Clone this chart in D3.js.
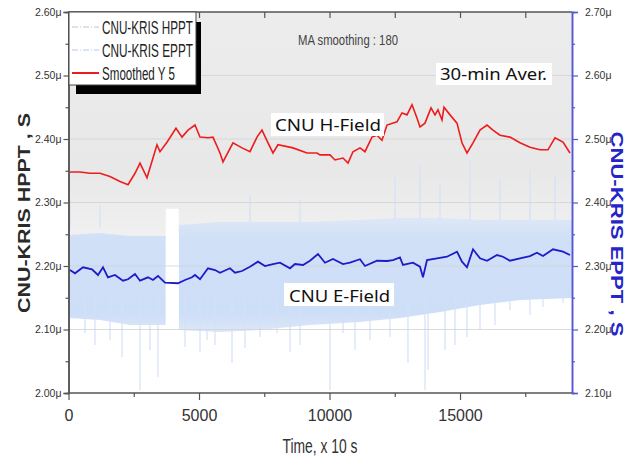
<!DOCTYPE html>
<html>
<head>
<meta charset="utf-8">
<script src="https://cdn.jsdelivr.net/npm/d3@7"></script>
<style>
  body { margin: 0; background: #fff; }
  svg { display: block; }
</style>
</head>
<body>
<svg width="632" height="460"></svg>
<script>
// time axis, x 10 s
const xTicks = [0, 5000, 10000, 15000];
const xMinor = [2500, 7500, 12500, 17500];
// left axis (HPPT) and right axis (EPPT), in microseconds
const yLeftTicks = [2.0, 2.1, 2.2, 2.3, 2.4, 2.5, 2.6];
const yRightTicks = [2.1, 2.2, 2.3, 2.4, 2.5, 2.6, 2.7];

// CNU H-Field, 30 min moving average (left axis)
const hSmoothT = [57, 441, 824, 1207, 1590, 1973, 2280, 2548, 2740, 3007,
  3390, 3505, 3773, 4118, 4348, 4578, 4846, 5038, 5344, 5536,
  5804, 5919, 6302, 6647, 6953, 7221, 7413, 7643, 7834, 8026,
  8600, 9137, 9520, 9635, 10018, 10209, 10516, 10708, 10899, 11167,
  11359, 11627, 11819, 12010, 12202, 12585, 12777, 12968, 13160, 13351,
  13466, 13658, 13888, 14041, 14156, 14309, 14386, 14616, 14884, 15075,
  15267, 15497, 15765, 16033, 16262, 16531, 16914, 17297, 17680, 18063,
  18370, 18638, 18945, 19213];
const hSmoothV = [2.348, 2.348, 2.346, 2.346, 2.341, 2.333, 2.328, 2.346, 2.362, 2.339,
  2.391, 2.380, 2.395, 2.417, 2.403, 2.414, 2.422, 2.403, 2.402, 2.403,
  2.378, 2.364, 2.394, 2.386, 2.380, 2.403, 2.414, 2.394, 2.378, 2.391,
  2.386, 2.378, 2.378, 2.375, 2.375, 2.367, 2.370, 2.362, 2.380, 2.386,
  2.380, 2.403, 2.406, 2.398, 2.422, 2.427, 2.441, 2.438, 2.454, 2.433,
  2.419, 2.425, 2.449, 2.438, 2.446, 2.430, 2.450, 2.438, 2.425, 2.394,
  2.378, 2.394, 2.414, 2.422, 2.414, 2.406, 2.403, 2.394, 2.387, 2.383,
  2.383, 2.402, 2.395, 2.378];

// CNU E-Field, 30 min moving average (right axis)
const eSmoothT = [57, 249, 556, 900, 1130, 1322, 1513, 1781, 2088, 2280,
  2548, 2740, 3046, 3237, 3429, 3697, 4195, 4463, 4731, 4846,
  5038, 5344, 5613, 5804, 6187, 6379, 6647, 6953, 7260, 7528,
  7834, 8103, 8486, 8677, 8984, 9252, 9558, 9826, 10133, 10516,
  10784, 11167, 11359, 11819, 12202, 12432, 12700, 12815, 13198, 13466,
  13581, 13735, 14118, 14501, 14884, 15075, 15267, 15497, 15765, 16033,
  16416, 16646, 16914, 17297, 17680, 17948, 18178, 18561, 18945, 19213];
const eSmoothV = [2.2937, 2.2885, 2.2980, 2.2948, 2.2858, 2.2980, 2.2822, 2.2858, 2.2769, 2.2791,
  2.2874, 2.2769, 2.2822, 2.2780, 2.2843, 2.2737, 2.2728, 2.2780, 2.2822, 2.2858,
  2.2791, 2.2964, 2.2937, 2.2894, 2.2964, 2.2894, 2.2921, 2.2989, 2.3068, 2.3000,
  2.3031, 2.3052, 2.2964, 2.3031, 2.3016, 2.3083, 2.3189, 2.3052, 2.3110, 2.3031,
  2.3052, 2.3106, 2.3000, 2.3083, 2.3079, 2.3094, 2.3137, 2.3016, 2.3052, 2.2989,
  2.2822, 2.3094, 2.3121, 2.3146, 2.3225, 2.3068, 2.2980, 2.3263, 2.3121, 2.3083,
  2.3173, 2.3146, 2.3083, 2.3121, 2.3157, 2.3209, 2.3157, 2.3263, 2.3225, 2.3173];

// raw HPPT envelope (left axis)
const hBandT = [0, 3720, 3730, 4220, 4230, 19290];
const hBandHi = [2.62, 2.62, 2.62, 2.62, 2.62, 2.62];
const hBandLo = [2.24, 2.24, 2.29, 2.29, 2.25, 2.25];

// raw EPPT envelope (right axis), null = no data
const eBandT = [0, 1207, 2356, 3720, 3980, 4230, 5804, 7336, 9252, 11167, 12700, 14233, 15765, 17297, 19290];
const eBandHi = [2.3488, 2.3520, 2.3472, 2.3472, null, 2.3646, 2.3693, 2.3693, 2.3693, 2.3724, 2.3756, 2.3756, 2.3724, 2.3724, 2.3724];
const eBandLo = [2.2181, 2.2150, 2.2071, 2.2071, null, 2.1992, 2.1961, 2.1992, 2.2071, 2.2118, 2.2181, 2.2276, 2.2386, 2.2465, 2.2496];

// single EPPT spikes outside the envelope (right axis)
const eSpikeDownT = [632, 1015, 1590, 2050, 2739, 3122, 3429, 4463, 5038, 5306,
  5613, 6264, 6762, 7336, 7988, 8486, 8869, 10018, 10516, 10976,
  11550, 12317, 13006, 13658, 13773, 14424, 14808, 15267, 15765, 16340,
  16914, 17680, 18178, 18945];
const eSpikeDownV = [2.1945, 2.1756, 2.1835, 2.1567, 2.1047, 2.1677, 2.1252, 2.1724, 2.1646, 2.1835,
  2.1756, 2.1472, 2.1709, 2.1882, 2.1945, 2.1646, 2.1756, 2.1047, 2.1945, 2.1677,
  2.1835, 2.1882, 2.1472, 2.1047, 2.1362, 2.1677, 2.1756, 2.1882, 2.1992, 2.2071,
  2.2307, 2.2228, 2.2354, 2.2417];
const eSpikeUpT = [57, 1207, 6953, 8869, 12509, 13466, 14233, 15383, 16531, 17680, 18638];
const eSpikeUpV = [2.404, 2.396, 2.412, 2.404, 2.443, 2.459, 2.428, 2.467, 2.435, 2.451, 2.443];

const svg = d3.select('svg');
const width = +svg.attr('width');
const height = +svg.attr('height');

const plot = {left: 68.5, right: 572, top: 12, bottom: 393};
const narrow = '"Liberation Sans Narrow", "Arial Narrow", "Liberation Sans", sans-serif';
const blueAxis = '#5555d8';

const x = d3.scaleLinear().domain([0, 19290]).range([plot.left, plot.right]);
const yL = d3.scaleLinear().domain([2.0, 2.6]).range([plot.bottom, plot.top]);
const yR = d3.scaleLinear().domain([2.1, 2.7]).range([plot.bottom, plot.top]);

const defs = svg.append('defs');
defs.append('clipPath').attr('id', 'clip')
  .append('rect')
  .attr('x', plot.left).attr('y', plot.top)
  .attr('width', plot.right - plot.left).attr('height', plot.bottom - plot.top);

const grayGrad = defs.append('linearGradient').attr('id', 'grayGrad')
  .attr('gradientUnits', 'userSpaceOnUse')
  .attr('x1', 0).attr('x2', 0).attr('y1', yL(2.6)).attr('y2', yL(2.24));
grayGrad.append('stop').attr('offset', 0).attr('stop-color', '#ececec');
grayGrad.append('stop').attr('offset', 0.7).attr('stop-color', '#e8e8e8');
grayGrad.append('stop').attr('offset', 1).attr('stop-color', '#f1f1f1');

const blueGrad = defs.append('linearGradient').attr('id', 'blueGrad')
  .attr('gradientUnits', 'userSpaceOnUse')
  .attr('x1', 0).attr('x2', 0).attr('y1', yR(2.375)).attr('y2', yR(2.20));
blueGrad.append('stop').attr('offset', 0).attr('stop-color', '#dde7f6');
blueGrad.append('stop').attr('offset', 0.18).attr('stop-color', '#d0e0f7');
blueGrad.append('stop').attr('offset', 0.85).attr('stop-color', '#cddef7');
blueGrad.append('stop').attr('offset', 1).attr('stop-color', '#dae6f8');

const g = svg.append('g').attr('clip-path', 'url(#clip)');

// raw HPPT
const hBand = hBandT.map((t, i) => ({t, hi: hBandHi[i], lo: hBandLo[i]}));
g.append('path')
  .attr('d', d3.area().x(d => x(d.t)).y0(d => yL(d.lo)).y1(d => yL(d.hi))(hBand))
  .attr('fill', 'url(#grayGrad)');

// raw EPPT
const eBand = eBandT.map((t, i) => ({t, hi: eBandHi[i], lo: eBandLo[i]}));
eSpikeUpT.forEach((t, i) => {
  g.append('line')
    .attr('x1', x(t)).attr('x2', x(t))
    .attr('y1', yR(2.36)).attr('y2', yR(eSpikeUpV[i]))
    .attr('stroke', '#d8e3f5').attr('stroke-width', 1.5);
});
g.append('path')
  .attr('d', d3.area().defined(d => d.hi !== null)
    .x(d => x(d.t)).y0(d => yR(d.lo)).y1(d => yR(d.hi))(eBand))
  .attr('fill', 'url(#blueGrad)');
eSpikeDownT.forEach((t, i) => {
  g.append('line')
    .attr('x1', x(t)).attr('x2', x(t))
    .attr('y1', yR(2.25)).attr('y2', yR(eSpikeDownV[i]))
    .attr('stroke', '#d3e1f6').attr('stroke-width', 1.2);
});

// grid
g.selectAll('.grid').data(yLeftTicks.slice(1, -1)).join('line')
  .attr('x1', plot.left).attr('x2', plot.right)
  .attr('y1', d => yL(d)).attr('y2', d => yL(d))
  .attr('stroke', '#d2d2d2').attr('stroke-opacity', 0.8).attr('stroke-width', 1);

// smoothed lines
const hSmooth = hSmoothT.map((t, i) => ({t, v: hSmoothV[i]}));
const eSmooth = eSmoothT.map((t, i) => ({t, v: eSmoothV[i]}));
g.append('path')
  .attr('d', d3.line().x(d => x(d.t)).y(d => yL(d.v))(hSmooth))
  .attr('fill', 'none').attr('stroke', '#ee1c1c').attr('stroke-width', 1.6);
g.append('path')
  .attr('d', d3.line().x(d => x(d.t)).y(d => yR(d.v))(eSmooth))
  .attr('fill', 'none').attr('stroke', '#1c1cc8').attr('stroke-width', 1.8);

// axes
function styleAxis(sel, color) {
  sel.selectAll('path').attr('stroke', color).attr('stroke-width', 1.5);
  sel.selectAll('line').attr('stroke', color).attr('stroke-width', 1.2);
  sel.selectAll('text').attr('font-family', narrow).attr('fill', '#333');
}
const fmt = d => d.toFixed(2) + 'μ';

const leftAxis = svg.append('g').attr('transform', `translate(${plot.left},0)`)
  .call(d3.axisLeft(yL).tickValues(yLeftTicks).tickSize(5).tickPadding(2).tickFormat(fmt));
styleAxis(leftAxis, '#555');
leftAxis.selectAll('text').attr('font-size', 10.5);
const leftMinor = svg.append('g').attr('transform', `translate(${plot.left},0)`)
  .call(d3.axisLeft(yL).tickValues(d3.range(6).map(i => 2.05 + i * 0.1)).tickSize(3).tickFormat(''));
styleAxis(leftMinor, '#555');

const rightAxis = svg.append('g').attr('transform', `translate(${plot.right},0)`)
  .call(d3.axisRight(yR).tickValues(yRightTicks).tickSize(6).tickPadding(7).tickFormat(fmt));
styleAxis(rightAxis, blueAxis);
rightAxis.selectAll('text').attr('font-size', 10.5).attr('fill', '#333');
const rightMinor = svg.append('g').attr('transform', `translate(${plot.right},0)`)
  .call(d3.axisRight(yR).tickValues(d3.range(6).map(i => 2.15 + i * 0.1)).tickSize(3).tickFormat(''));
styleAxis(rightMinor, blueAxis);

const bottomAxis = svg.append('g').attr('transform', `translate(0,${plot.bottom})`)
  .call(d3.axisBottom(x).tickValues(xTicks).tickSize(7).tickPadding(10).tickFormat(d3.format('d')));
styleAxis(bottomAxis, '#555');
bottomAxis.selectAll('text').attr('font-size', 16);
bottomAxis.select('path').attr('d', `M${plot.left},0H${plot.right}`);
const bottomMinor = svg.append('g').attr('transform', `translate(0,${plot.bottom})`)
  .call(d3.axisBottom(x).tickValues(xMinor).tickSize(4).tickFormat(''));
styleAxis(bottomMinor, '#555');
bottomMinor.select('path').remove();

const topAxis = svg.append('g').attr('transform', `translate(0,${plot.top})`)
  .call(d3.axisBottom(x).tickValues(xTicks.concat(xMinor)).tickSize(6).tickFormat(''));
styleAxis(topAxis, '#555');
topAxis.select('path').attr('d', `M${plot.left},0H${plot.right}`);

// axis titles
svg.append('text')
  .attr('transform', `translate(24,213) rotate(-90)`)
  .attr('text-anchor', 'middle').attr('dominant-baseline', 'central')
  .attr('font-family', 'Liberation Sans, Arial, sans-serif').attr('font-weight', 'bold')
  .attr('font-size', 17).attr('fill', '#2a2a2a')
  .attr('textLength', 200).attr('lengthAdjust', 'spacingAndGlyphs')
  .text('CNU-KRIS HPPT , S');
svg.append('text')
  .attr('transform', `translate(616,234) rotate(90)`)
  .attr('text-anchor', 'middle').attr('dominant-baseline', 'central')
  .attr('font-family', 'Liberation Sans, Arial, sans-serif').attr('font-weight', 'bold')
  .attr('font-size', 17).attr('fill', '#2424c8')
  .attr('textLength', 205).attr('lengthAdjust', 'spacingAndGlyphs')
  .text('CNU-KRIS EPPT , S');
svg.append('text')
  .attr('x', 320).attr('y', 453)
  .attr('text-anchor', 'middle')
  .attr('font-family', narrow).attr('font-size', 20).attr('fill', '#333')
  .attr('textLength', 75).attr('lengthAdjust', 'spacingAndGlyphs')
  .text('Time, x 10 s');

// annotations
svg.append('text')
  .attr('x', 298).attr('y', 45)
  .attr('font-family', narrow).attr('font-size', 15).attr('fill', '#444')
  .attr('textLength', 100).attr('lengthAdjust', 'spacingAndGlyphs')
  .text('MA smoothing : 180');

const notes = [
  {text: '30-min Aver.', x: 440, y: 80, len: 107, box: [436, 63, 116, 22]},
  {text: 'CNU H-Field', x: 275, y: 131, len: 106, box: [271, 113, 113, 23]},
  {text: 'CNU E-Field', x: 289, y: 302, len: 101, box: [284, 283, 110, 23]}
];
notes.forEach(n => {
  svg.append('rect')
    .attr('x', n.box[0]).attr('y', n.box[1]).attr('width', n.box[2]).attr('height', n.box[3])
    .attr('fill', '#fff');
  svg.append('text')
    .attr('x', n.x).attr('y', n.y)
    .attr('font-family', '"Noto Sans", "Open Sans", sans-serif').attr('font-size', 17).attr('fill', '#111')
    .attr('textLength', n.len).attr('lengthAdjust', 'spacingAndGlyphs')
    .text(n.text);
});

// legend
const legend = svg.append('g');
legend.append('rect').attr('x', 76).attr('y', 22).attr('width', 125).attr('height', 72).attr('fill', '#000');
legend.append('rect').attr('x', 69).attr('y', 12).attr('width', 127).attr('height', 73)
  .attr('fill', '#fff').attr('stroke', '#444').attr('stroke-width', 1);
const legendItems = [
  {label: 'CNU-KRIS HPPT', color: '#c4c4c4', dash: '6,2,1,2', y: 27, len: 91},
  {label: 'CNU-KRIS EPPT', color: '#b4c8ea', dash: '6,2,1,2', y: 50, len: 91},
  {label: 'Smoothed Y 5', color: '#ee1c1c', dash: null, y: 73, len: 73}
];
legendItems.forEach(d => {
  legend.append('line')
    .attr('x1', 72).attr('x2', 99).attr('y1', d.y).attr('y2', d.y)
    .attr('stroke', d.color).attr('stroke-width', d.dash ? 1 : 2)
    .attr('stroke-dasharray', d.dash);
  legend.append('text')
    .attr('x', 102).attr('y', d.y + 7)
    .attr('font-family', narrow).attr('font-size', 19).attr('fill', '#222')
    .attr('textLength', d.len).attr('lengthAdjust', 'spacingAndGlyphs')
    .text(d.label);
});
</script>
</body>
</html>
